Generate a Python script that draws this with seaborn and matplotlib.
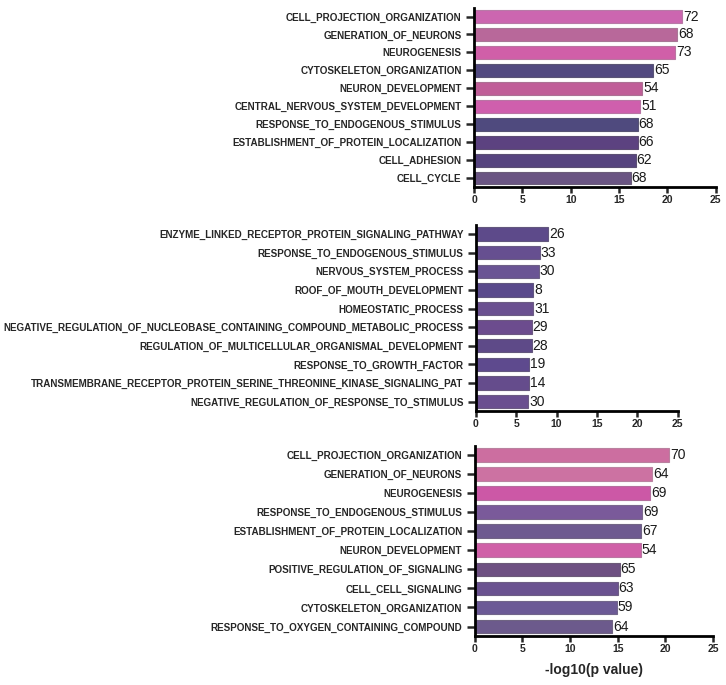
import pandas as pd
import matplotlib
matplotlib.use("Agg")
import matplotlib.pyplot as plt
import seaborn as sns

# panel 1
terms_a = ["CELL_PROJECTION_ORGANIZATION", "GENERATION_OF_NEURONS", "NEUROGENESIS",
           "CYTOSKELETON_ORGANIZATION", "NEURON_DEVELOPMENT", "CENTRAL_NERVOUS_SYSTEM_DEVELOPMENT",
           "RESPONSE_TO_ENDOGENOUS_STIMULUS", "ESTABLISHMENT_OF_PROTEIN_LOCALIZATION",
           "CELL_ADHESION", "CELL_CYCLE"]
logp_a = [21.5, 21.0, 20.8, 18.5, 17.4, 17.2, 16.9, 16.9, 16.7, 16.2]
count_a = [72, 68, 73, 65, 54, 51, 68, 66, 62, 68]

# panel 2
terms_b = ["ENZYME_LINKED_RECEPTOR_PROTEIN_SIGNALING_PATHWAY", "RESPONSE_TO_ENDOGENOUS_STIMULUS",
           "NERVOUS_SYSTEM_PROCESS", "ROOF_OF_MOUTH_DEVELOPMENT", "HOMEOSTATIC_PROCESS",
           "NEGATIVE_REGULATION_OF_NUCLEOBASE_CONTAINING_COMPOUND_METABOLIC_PROCESS",
           "REGULATION_OF_MULTICELLULAR_ORGANISMAL_DEVELOPMENT", "RESPONSE_TO_GROWTH_FACTOR",
           "TRANSMEMBRANE_RECEPTOR_PROTEIN_SERINE_THREONINE_KINASE_SIGNALING_PAT",
           "NEGATIVE_REGULATION_OF_RESPONSE_TO_STIMULUS"]
logp_b = [9.0, 7.9, 7.8, 7.1, 7.1, 6.9, 6.9, 6.6, 6.6, 6.5]
count_b = [26, 33, 30, 8, 31, 29, 28, 19, 14, 30]

# panel 3
terms_c = ["CELL_PROJECTION_ORGANIZATION", "GENERATION_OF_NEURONS", "NEUROGENESIS",
           "RESPONSE_TO_ENDOGENOUS_STIMULUS", "ESTABLISHMENT_OF_PROTEIN_LOCALIZATION",
           "NEURON_DEVELOPMENT", "POSITIVE_REGULATION_OF_SIGNALING", "CELL_CELL_SIGNALING",
           "CYTOSKELETON_ORGANIZATION", "RESPONSE_TO_OXYGEN_CONTAINING_COMPOUND"]
logp_c = [20.4, 18.6, 18.4, 17.6, 17.5, 17.4, 15.2, 15.0, 14.9, 14.4]
count_c = [70, 64, 69, 69, 67, 54, 65, 63, 59, 64]

xticks = [0, 5, 10, 15, 20, 25]
xlab = "-log10(p value)"

# bar colours (style only)
cols_a = ["#cc66b0", "#b8689a", "#d05fa8", "#524a80", "#c05e98",
          "#cf5fad", "#4f4a7e", "#5c4280", "#56447f", "#6a5583"]
cols_b = ["#5d4a8a", "#664f90", "#6a5494", "#5a4a8c", "#6a5090",
          "#6c4c8e", "#5e4a88", "#5e4a8e", "#654c8c", "#6a4f90"]
cols_c = ["#cc6ea0", "#cc72a2", "#cc58a6", "#7a5a9a", "#6e5a90",
          "#d060a8", "#6e5082", "#6a5290", "#6c5a96", "#6c5a8c"]

sns.set_style("white")
plt.rcParams["font.family"] = ["Liberation Sans", "DejaVu Sans"]

fig = plt.figure(figsize=(7.26, 6.85), dpi=100)

# axes boxes in figure fractions
boxes = [[0.653, 0.727, 0.333, 0.262],
         [0.6555, 0.400, 0.2777, 0.272],
         [0.654, 0.0715, 0.328, 0.278]]
panels = [(terms_a, logp_a, count_a, cols_a),
          (terms_b, logp_b, count_b, cols_b),
          (terms_c, logp_c, count_c, cols_c)]

for i, (terms, vals, cnts, cols) in enumerate(panels):
    ax = fig.add_axes(boxes[i])
    df = pd.DataFrame({"term": [f"{j}_{t}" for j, t in enumerate(terms)], "val": vals})
    sns.barplot(data=df, x="val", y="term", hue="term", palette=cols, legend=False,
                orient="h", width=0.72, ax=ax, edgecolor="white", linewidth=0.8, saturation=1)
    for p, c in zip(ax.patches, cols):
        p.set_edgecolor(sns.desaturate(c, 0.6))
    ax.set_yticks(range(len(terms)))
    ax.set_yticklabels(terms, fontsize=7.1, fontweight="bold")
    ax.set_xlim(0, 25)
    ax.set_ylim(len(terms) - 0.5, -0.5)
    ax.set_xticks(xticks)
    ax.set_xticklabels([str(t) for t in xticks], fontsize=7.5, fontweight="bold")
    ax.tick_params(axis="y", direction="out", length=6, width=1.8, pad=3, left=True)
    ax.tick_params(axis="x", direction="out", length=4, width=1.8, pad=2, bottom=True)
    for s in ["top", "right"]:
        ax.spines[s].set_visible(False)
    for s in ["left", "bottom"]:
        ax.spines[s].set_linewidth(2)
        ax.spines[s].set_color("black")
    ax.set_ylabel("")
    ax.set_xlabel("")
    for p, n in zip(ax.patches, cnts):
        ax.text(p.get_width() + 0.1, p.get_y() + p.get_height() / 2, str(n),
                va="center", ha="left", fontsize=10, color="#1a1a1a")
    if i == 2:
        ax.set_xlabel(xlab, fontsize=10, fontweight="bold", labelpad=6)

fig.savefig("out.png", dpi=100)
